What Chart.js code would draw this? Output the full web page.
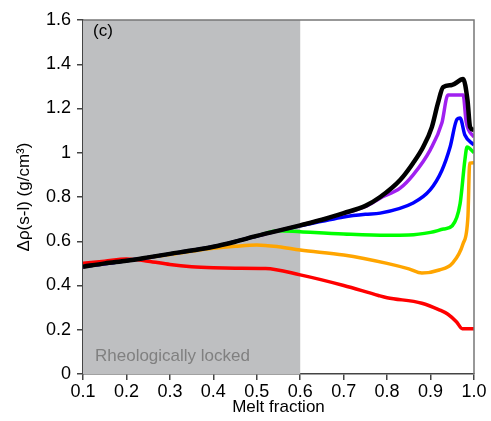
<!DOCTYPE html>
<html>
<head>
<meta charset="utf-8">
<script src="https://cdn.jsdelivr.net/npm/chart.js@4"></script>
<style>
  body { margin: 0; background: #fff; }
  #wrap { width: 491px; height: 421px; }
</style>
</head>
<body>
<div id="wrap"><canvas id="chart" width="491" height="421"></canvas></div>
<script>
// tick values
const xTicks = [0.1, 0.2, 0.3, 0.4, 0.5, 0.6, 0.7, 0.8, 0.9, 1.0]
const yTicks = [0, 0.2, 0.4, 0.6, 0.8, 1.0, 1.2, 1.4, 1.6]
const lockedRange = [0.1, 0.6]

// series (melt fraction, density contrast)
const blackX = [0.1, 0.15, 0.2, 0.25, 0.3, 0.35, 0.4, 0.45, 0.5, 0.55, 0.6, 0.65, 0.7, 0.75, 0.784, 0.83, 0.86, 0.883, 0.903, 0.917, 0.929, 0.949, 0.975, 0.985, 0.991, 1.0]
const blackY = [0.485, 0.50, 0.512, 0.527, 0.543, 0.558, 0.575, 0.598, 0.624, 0.648, 0.672, 0.697, 0.727, 0.76, 0.80, 0.877, 0.954, 1.026, 1.116, 1.224, 1.297, 1.306, 1.333, 1.238, 1.116, 1.103]

const purpleX = [0.1, 0.2, 0.3, 0.4, 0.5, 0.6, 0.7, 0.75, 0.784, 0.83, 0.86, 0.899, 0.926, 0.94, 0.975, 0.982, 1.0]
const purpleY = [0.485, 0.512, 0.543, 0.575, 0.624, 0.672, 0.725, 0.757, 0.795, 0.84, 0.90, 1.012, 1.134, 1.261, 1.261, 1.14, 1.07]

const blueX = [0.1, 0.2, 0.3, 0.4, 0.5, 0.55, 0.6, 0.65, 0.7, 0.75, 0.784, 0.86, 0.899, 0.926, 0.945, 0.961, 0.968, 0.979, 1.0]
const blueY = [0.485, 0.512, 0.543, 0.575, 0.624, 0.648, 0.67, 0.69, 0.71, 0.722, 0.727, 0.773, 0.832, 0.92, 1.026, 1.152, 1.157, 1.08, 1.035]

const greenX = [0.1, 0.2, 0.3, 0.4, 0.5, 0.55, 0.6, 0.7, 0.8, 0.85, 0.9, 0.93, 0.95, 0.968, 0.979, 0.984, 1.0]
const greenY = [0.485, 0.512, 0.543, 0.575, 0.624, 0.648, 0.643, 0.633, 0.627, 0.628, 0.64, 0.655, 0.67, 0.77, 0.967, 1.026, 1.0]

const orangeX = [0.1, 0.2, 0.3, 0.35, 0.4, 0.45, 0.5, 0.55, 0.6, 0.7, 0.8, 0.85, 0.88, 0.92, 0.95, 0.975, 0.986, 0.99, 1.0]
const orangeY = [0.485, 0.512, 0.54, 0.555, 0.568, 0.577, 0.583, 0.575, 0.56, 0.538, 0.50, 0.475, 0.456, 0.47, 0.50, 0.59, 0.71, 0.953, 0.955]

const redX = [0.1, 0.15, 0.2, 0.25, 0.3, 0.35, 0.4, 0.45, 0.52, 0.6, 0.7, 0.78, 0.8, 0.88, 0.92, 0.94, 0.96, 0.973, 1.0]
const redY = [0.50, 0.51, 0.52, 0.51, 0.495, 0.485, 0.48, 0.478, 0.477, 0.448, 0.40, 0.355, 0.345, 0.32, 0.29, 0.27, 0.235, 0.205, 0.205]

const toPoints = (xs, ys) => xs.map((x, i) => ({ x: x, y: ys[i] }))

// first dataset is drawn on top
const series = [
  { xs: blackX, ys: blackY, color: '#000000', width: 4.5 },
  { xs: purpleX, ys: purpleY, color: '#a020f0', width: 3.5 },
  { xs: blueX, ys: blueY, color: '#0000ff', width: 3.5 },
  { xs: greenX, ys: greenY, color: '#00ff00', width: 3.5 },
  { xs: orangeX, ys: orangeY, color: '#ffa500', width: 3.5 },
  { xs: redX, ys: redY, color: '#ff0000', width: 3.5 }
]

const fmt = v => {
  if (Math.abs(v) < 1e-9) return '0'
  if (Math.abs(v - 1) < 1e-9) return '1'
  return v.toFixed(1)
}

// gray band + panel text + box
const decor = {
  id: 'decor',
  beforeDatasetsDraw(chart) {
    const { ctx, chartArea, scales } = chart
    const x0 = scales.x.getPixelForValue(lockedRange[0])
    const x1 = scales.x.getPixelForValue(lockedRange[1])
    ctx.save()
    ctx.fillStyle = '#bebfc1'
    ctx.fillRect(x0, chartArea.top, x1 - x0, chartArea.bottom - chartArea.top)
    ctx.fillStyle = '#808080'
    ctx.font = '17px "Liberation Sans", Arial, sans-serif'
    ctx.textBaseline = 'alphabetic'
    ctx.fillText('Rheologically locked', x0 + 12, chartArea.bottom - 13)
    ctx.fillStyle = '#000'
    ctx.font = '17px "Liberation Sans", Arial, sans-serif'
    ctx.textBaseline = 'top'
    ctx.fillText('(c)', x0 + 10, chartArea.top + 3)
    ctx.restore()
  },
  afterDraw(chart) {
    const { ctx, chartArea } = chart
    ctx.save()
    ctx.strokeStyle = '#777'
    ctx.lineWidth = 1.5
    ctx.beginPath()
    ctx.moveTo(chartArea.left, chartArea.top)
    ctx.lineTo(chartArea.right, chartArea.top)
    ctx.lineTo(chartArea.right, chartArea.bottom)
    ctx.stroke()
    ctx.restore()
  }
}

Chart.defaults.font.family = '"Liberation Sans", Arial, sans-serif'
Chart.defaults.color = '#000'

new Chart(document.getElementById('chart'), {
  type: 'line',
  data: {
    datasets: series.map(s => ({
      data: toPoints(s.xs, s.ys),
      borderColor: s.color,
      borderWidth: s.width,
      pointRadius: 0,
      cubicInterpolationMode: 'monotone',
      borderJoinStyle: 'round',
      fill: false
    }))
  },
  options: {
    responsive: false,
    animation: false,
    layout: { padding: { top: 20, right: 17, left: 0, bottom: 0 } },
    plugins: { legend: { display: false }, tooltip: { enabled: false } },
    scales: {
      x: {
        type: 'linear',
        min: 0.1,
        max: 1.0,
        afterBuildTicks: s => { s.ticks = xTicks.map(v => ({ value: v })) },
        afterFit: s => { s.height = 47 },
        ticks: { font: { size: 18 }, padding: 1, maxRotation: 0, callback: v => v.toFixed(1) },
        grid: { drawOnChartArea: false, tickLength: 6, color: '#444', lineWidth: 1.5 },
        border: { color: '#444', width: 1.5 },
        title: { display: true, text: 'Melt fraction', font: { size: 17 }, padding: { top: 3, bottom: 3 } }
      },
      y: {
        min: 0,
        max: 1.6,
        afterBuildTicks: s => { s.ticks = yTicks.map(v => ({ value: v })) },
        afterFit: s => { s.width = 83 },
        ticks: { font: { size: 18 }, padding: 6, callback: v => fmt(v) },
        grid: { drawOnChartArea: false, tickLength: 6, color: '#444', lineWidth: 1.5 },
        border: { color: '#444', width: 1.5 },
        title: { display: true, text: 'Δρ(s-l) (g/cm³)', font: { size: 17 }, padding: { top: 14, bottom: 14 } }
      }
    }
  },
  plugins: [decor]
})
</script>
</body>
</html>
